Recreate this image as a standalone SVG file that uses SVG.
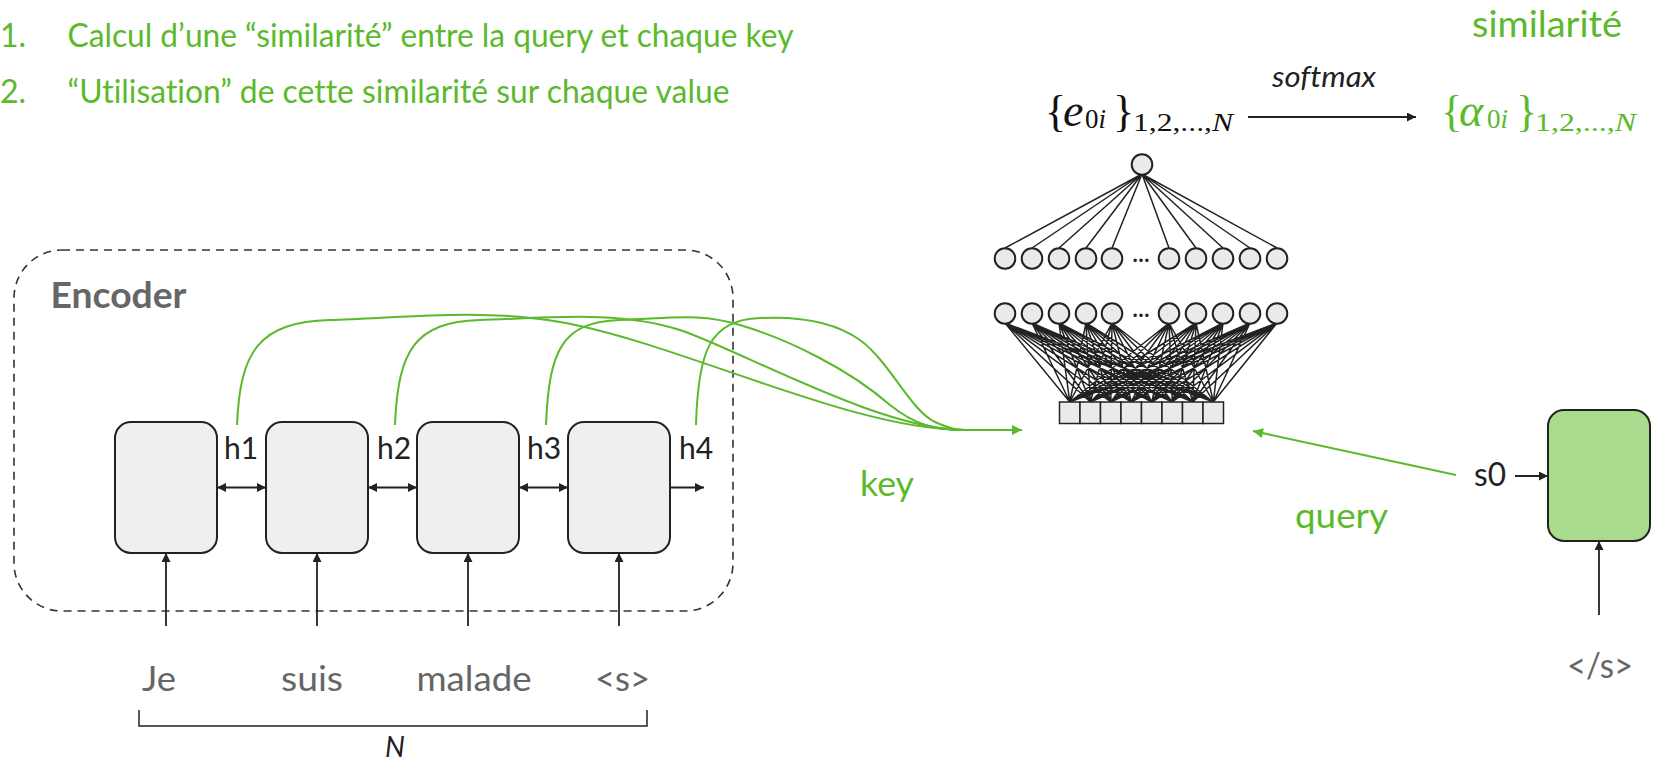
<svg xmlns="http://www.w3.org/2000/svg" width="1653" height="761" viewBox="0 0 1653 761">
<style>
text{font-variant-ligatures:none}
.g{fill:#5bb92c;font-family:Lato,"Liberation Sans",sans-serif}
.k{fill:#222;font-family:Lato,"Liberation Sans",sans-serif}
.gr{fill:#666;font-family:Lato,"Liberation Sans",sans-serif}
.m{font-family:"Liberation Serif","DejaVu Serif",serif}
.cell{fill:#efefef;stroke:#222;stroke-width:2}
.dec{fill:#a9dc8d;stroke:#222;stroke-width:2}
.nc{fill:#e8eaeb;stroke:#222;stroke-width:2}
.ln{stroke:#222;stroke-width:1.5;fill:none}
.ar{stroke:#222;stroke-width:1.8;fill:none}
.gc{stroke:#5bb92c;stroke-width:2;fill:none}
</style>
<defs>
<marker id="ab" viewBox="0 0 10 10" refX="10" refY="5" markerWidth="11" markerHeight="9" markerUnits="userSpaceOnUse" orient="auto-start-reverse"><path d="M0,0L10,5L0,10z" fill="#222"/></marker>
<marker id="ag" viewBox="0 0 10 10" refX="10" refY="5" markerWidth="14" markerHeight="10" markerUnits="userSpaceOnUse" orient="auto"><path d="M0,0L10,5L0,10z" fill="#5bb92c"/></marker>
</defs>

<g id="titles">
<text class="g" x="0" y="47" font-size="32">1.</text>
<text class="g" x="67.5" y="47" font-size="32" textLength="726" lengthAdjust="spacingAndGlyphs">Calcul d’une “similarité” entre la query et chaque key</text>
<text class="g" x="0" y="103" font-size="32">2.</text>
<text class="g" x="67.5" y="103" font-size="32" textLength="662" lengthAdjust="spacingAndGlyphs">“Utilisation” de cette similarité sur chaque value</text>
<text class="g" x="1472" y="37" font-size="36" textLength="150" lengthAdjust="spacingAndGlyphs">similarité</text>
</g>

<g id="softmax">
<text class="k" x="1272" y="87" font-size="29" font-style="italic" textLength="104" lengthAdjust="spacingAndGlyphs">softmax</text>
<line class="ar" x1="1248" y1="117" x2="1416" y2="117" marker-end="url(#ab)"/>
</g>

<g id="e-expr" class="m" fill="#111">
<text x="1045" y="126" font-size="44">{</text>
<text x="1063" y="126" font-size="46" font-style="italic">e</text>
<text x="1085" y="128" font-size="27">0<tspan font-style="italic">i</tspan></text>
<text x="1113" y="126" font-size="44">}</text>
<text x="1133" y="131" font-size="26" textLength="100" lengthAdjust="spacingAndGlyphs">1,2,...,<tspan font-style="italic">N</tspan></text>
</g>

<g id="alpha-expr" class="m" fill="#5bb92c">
<text x="1441" y="126" font-size="44">{</text>
<text x="1459" y="126" font-size="46" font-style="italic">α</text>
<text x="1487" y="128" font-size="27">0<tspan font-style="italic">i</tspan></text>
<text x="1516" y="126" font-size="44">}</text>
<text x="1535" y="131" font-size="26" textLength="101" lengthAdjust="spacingAndGlyphs">1,2,...,<tspan font-style="italic">N</tspan></text>
</g>

<g id="network">
<path class="ln" d="M1142,174L1005,248M1142,174L1032,248M1142,174L1059,248M1142,174L1086,248M1142,174L1112,248M1142,174L1169,248M1142,174L1196,248M1142,174L1223,248M1142,174L1250,248M1142,174L1277,248"/>
<path class="ln" d="M1005,323L1069.8,402M1005,323L1090.3,402M1005,323L1110.8,402M1005,323L1131.3,402M1005,323L1151.8,402M1005,323L1172.3,402M1005,323L1192.8,402M1005,323L1213.3,402
M1032,323L1069.8,402M1032,323L1090.3,402M1032,323L1110.8,402M1032,323L1131.3,402M1032,323L1151.8,402M1032,323L1172.3,402M1032,323L1192.8,402M1032,323L1213.3,402
M1059,323L1069.8,402M1059,323L1090.3,402M1059,323L1110.8,402M1059,323L1131.3,402M1059,323L1151.8,402M1059,323L1172.3,402M1059,323L1192.8,402M1059,323L1213.3,402
M1086,323L1069.8,402M1086,323L1090.3,402M1086,323L1110.8,402M1086,323L1131.3,402M1086,323L1151.8,402M1086,323L1172.3,402M1086,323L1192.8,402M1086,323L1213.3,402
M1112,323L1069.8,402M1112,323L1090.3,402M1112,323L1110.8,402M1112,323L1131.3,402M1112,323L1151.8,402M1112,323L1172.3,402M1112,323L1192.8,402M1112,323L1213.3,402
M1169,323L1069.8,402M1169,323L1090.3,402M1169,323L1110.8,402M1169,323L1131.3,402M1169,323L1151.8,402M1169,323L1172.3,402M1169,323L1192.8,402M1169,323L1213.3,402
M1196,323L1069.8,402M1196,323L1090.3,402M1196,323L1110.8,402M1196,323L1131.3,402M1196,323L1151.8,402M1196,323L1172.3,402M1196,323L1192.8,402M1196,323L1213.3,402
M1223,323L1069.8,402M1223,323L1090.3,402M1223,323L1110.8,402M1223,323L1131.3,402M1223,323L1151.8,402M1223,323L1172.3,402M1223,323L1192.8,402M1223,323L1213.3,402
M1250,323L1069.8,402M1250,323L1090.3,402M1250,323L1110.8,402M1250,323L1131.3,402M1250,323L1151.8,402M1250,323L1172.3,402M1250,323L1192.8,402M1250,323L1213.3,402
M1277,323L1069.8,402M1277,323L1090.3,402M1277,323L1110.8,402M1277,323L1131.3,402M1277,323L1151.8,402M1277,323L1172.3,402M1277,323L1192.8,402M1277,323L1213.3,402"/>
<circle class="nc" cx="1142" cy="164.5" r="10.3"/>
<g id="row1">
<circle class="nc" cx="1005" cy="258.5" r="10.3"/><circle class="nc" cx="1032" cy="258.5" r="10.3"/><circle class="nc" cx="1059" cy="258.5" r="10.3"/><circle class="nc" cx="1086" cy="258.5" r="10.3"/><circle class="nc" cx="1112" cy="258.5" r="10.3"/>
<circle class="nc" cx="1169" cy="258.5" r="10.3"/><circle class="nc" cx="1196" cy="258.5" r="10.3"/><circle class="nc" cx="1223" cy="258.5" r="10.3"/><circle class="nc" cx="1250" cy="258.5" r="10.3"/><circle class="nc" cx="1277" cy="258.5" r="10.3"/>
<text class="k" x="1141" y="262" font-size="22" font-weight="bold" text-anchor="middle">…</text>
</g>
<g id="row2">
<circle class="nc" cx="1005" cy="313.5" r="10.3"/><circle class="nc" cx="1032" cy="313.5" r="10.3"/><circle class="nc" cx="1059" cy="313.5" r="10.3"/><circle class="nc" cx="1086" cy="313.5" r="10.3"/><circle class="nc" cx="1112" cy="313.5" r="10.3"/>
<circle class="nc" cx="1169" cy="313.5" r="10.3"/><circle class="nc" cx="1196" cy="313.5" r="10.3"/><circle class="nc" cx="1223" cy="313.5" r="10.3"/><circle class="nc" cx="1250" cy="313.5" r="10.3"/><circle class="nc" cx="1277" cy="313.5" r="10.3"/>
<text class="k" x="1141" y="317" font-size="22" font-weight="bold" text-anchor="middle">…</text>
</g>
<g id="input-vector" fill="#e8eaeb" stroke="#222" stroke-width="1.5">
<rect x="1059.5" y="402" width="20.5" height="21.5"/><rect x="1080" y="402" width="20.5" height="21.5"/><rect x="1100.5" y="402" width="20.5" height="21.5"/><rect x="1121" y="402" width="20.5" height="21.5"/>
<rect x="1141.5" y="402" width="20.5" height="21.5"/><rect x="1162" y="402" width="20.5" height="21.5"/><rect x="1182.5" y="402" width="20.5" height="21.5"/><rect x="1203" y="402" width="20.5" height="21.5"/>
</g>
</g>

<g id="encoder">
<rect x="14" y="250" width="719" height="361" rx="48" fill="none" stroke="#333" stroke-width="1.6" stroke-dasharray="8 6"/>
<text class="gr" x="50.5" y="308" font-size="36" font-weight="bold" textLength="136" lengthAdjust="spacingAndGlyphs">Encoder</text>
</g>

<g id="cell1"><rect class="cell" x="115" y="422" width="102" height="131" rx="16"/><text class="k" x="224" y="459" font-size="30">h1</text></g>
<g id="cell2"><rect class="cell" x="266" y="422" width="102" height="131" rx="16"/><text class="k" x="377" y="459" font-size="30">h2</text></g>
<g id="cell3"><rect class="cell" x="417" y="422" width="102" height="131" rx="16"/><text class="k" x="527" y="459" font-size="30">h3</text></g>
<g id="cell4"><rect class="cell" x="568" y="422" width="102" height="131" rx="16"/><text class="k" x="679" y="459" font-size="30">h4</text></g>

<g id="decoder"><rect class="dec" x="1548" y="410" width="102" height="131" rx="16"/><text class="k" x="1474" y="486" font-size="32" textLength="32" lengthAdjust="spacingAndGlyphs">s0</text></g>

<g id="words">
<text class="gr" x="142" y="691" font-size="35" textLength="34" lengthAdjust="spacingAndGlyphs">Je</text>
<text class="gr" x="281" y="691" font-size="35" textLength="62" lengthAdjust="spacingAndGlyphs">suis</text>
<text class="gr" x="416.5" y="691" font-size="35" textLength="115" lengthAdjust="spacingAndGlyphs">malade</text>
<text class="gr" x="595" y="691" font-size="35" textLength="55" lengthAdjust="spacingAndGlyphs">&lt;s&gt;</text>
<text class="gr" x="1567" y="678" font-size="35" textLength="66" lengthAdjust="spacingAndGlyphs">&lt;/s&gt;</text>
<path class="ln" d="M139,710L139,726L647,726L647,710"/>
<text class="k" x="385" y="757" font-size="28" font-style="italic">N</text>
</g>

<g id="labels">
<text class="g" x="860" y="496" font-size="35" textLength="54" lengthAdjust="spacingAndGlyphs">key</text>
<text class="g" x="1295" y="528" font-size="34" textLength="93" lengthAdjust="spacingAndGlyphs">query</text>
</g>

<g id="connectors">
<line class="ar" x1="217" y1="487.5" x2="266" y2="487.5" marker-start="url(#ab)" marker-end="url(#ab)"/>
<line class="ar" x1="368" y1="487.5" x2="417" y2="487.5" marker-start="url(#ab)" marker-end="url(#ab)"/>
<line class="ar" x1="519" y1="487.5" x2="568" y2="487.5" marker-start="url(#ab)" marker-end="url(#ab)"/>
<line class="ar" x1="670" y1="487.5" x2="704" y2="487.5" marker-end="url(#ab)"/>
<line class="ar" x1="166" y1="626" x2="166" y2="553" marker-end="url(#ab)"/>
<line class="ar" x1="317" y1="626" x2="317" y2="553" marker-end="url(#ab)"/>
<line class="ar" x1="468" y1="626" x2="468" y2="553" marker-end="url(#ab)"/>
<line class="ar" x1="619" y1="626" x2="619" y2="553" marker-end="url(#ab)"/>
<line class="ar" x1="1599" y1="615" x2="1599" y2="541" marker-end="url(#ab)"/>
<line class="ar" x1="1515" y1="476" x2="1548" y2="476" marker-end="url(#ab)"/>
<path class="gc" d="M237,425C240,350 260,322 330,320C400,318 480,308 560,322C680,343 850,430 965,430"/>
<path class="gc" d="M395,425C398,350 415,322 480,320C545,318 620,310 680,330C740,350 880,430 965,430"/>
<path class="gc" d="M546,425C549,350 562,322 620,320C675,318 700,313 740,325C790,340 850,370 890,405C915,425 935,430 965,430"/>
<path class="gc" d="M696,425C698,350 710,320 760,318C800,316 835,322 860,340C890,362 910,410 935,422C950,429 958,430 970,430"/>
<line class="gc" x1="950" y1="430" x2="1022" y2="430" marker-end="url(#ag)"/>
<line class="gc" x1="1456" y1="475" x2="1253" y2="431" marker-end="url(#ag)"/>
</g>
</svg>
